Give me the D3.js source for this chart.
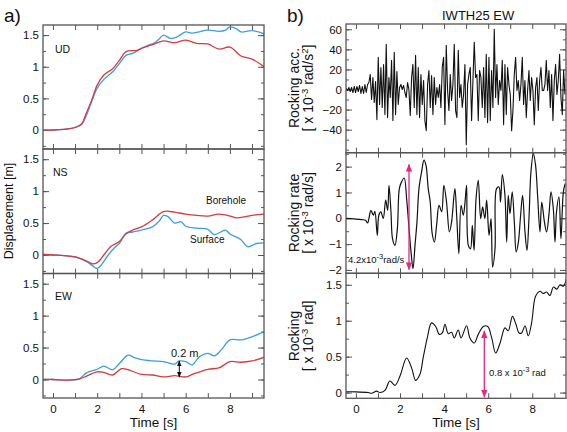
<!DOCTYPE html>
<html><head><meta charset="utf-8">
<script src="https://cdn.jsdelivr.net/npm/d3@7"></script>
<style>
body{margin:0;background:#fff;}
text{font-family:"Liberation Sans",Arial,Helvetica,sans-serif;fill:#111;}
</style></head><body>
<svg id="c" width="567" height="432"></svg>
<script>
// ---------- data ----------
const xTickLabels = [0, 2, 4, 6, 8];
const xMinorTicks = [0,1,2,3,4,5,6,7,8,9];
const dispTicks = [0, 0.5, 1, 1.5];
const accTicks = [-40, -20, 0, 20, 40, 60];
const rateTicks = [-2, -1, 0, 1, 2];
const rockTicks = [0, 0.5, 1, 1.5];

const udRedT = [-0.45,0,0.5,1,1.3,1.5,1.75,2,2.3,2.7,3,3.3,3.8,4,4.5,5,5.5,6,6.5,7,7.5,8,8.5,9,9.55];
const udRedV = [0,0,0.01,0.04,0.1,0.26,0.47,0.71,0.87,0.97,1.1,1.24,1.26,1.29,1.35,1.41,1.38,1.42,1.37,1.36,1.28,1.31,1.17,1.12,1.0];
const udBlueT = [-0.45,0,0.5,1,1.3,1.5,1.75,2,2.3,2.7,3,3.3,3.6,4,4.3,4.6,4.8,5,5.3,5.6,6,6.3,6.6,7,7.5,7.8,8,8.3,8.5,9,9.55];
const udBlueV = [0,0,0.01,0.04,0.09,0.22,0.45,0.66,0.8,0.92,1.05,1.18,1.21,1.29,1.34,1.38,1.44,1.5,1.45,1.47,1.55,1.53,1.55,1.58,1.56,1.58,1.63,1.6,1.55,1.57,1.52];

const nsRedT = [-0.45,0,0.5,1,1.5,1.8,2,2.3,2.6,3,3.3,3.6,4,4.5,5,5.5,6,6.5,7,7.5,8,8.3,8.7,9,9.55];
const nsRedV = [0.01,0,-0.01,-0.03,-0.09,-0.14,-0.12,0,0.13,0.21,0.33,0.39,0.44,0.55,0.68,0.67,0.64,0.62,0.61,0.64,0.61,0.58,0.6,0.62,0.64];
const nsBlueT = [-0.45,0,0.5,1,1.5,1.8,2,2.2,2.5,2.8,3,3.3,3.6,4,4.5,4.8,5,5.2,5.5,5.8,6,6.5,7,7.3,7.8,8,8.5,8.8,9.2,9.55];
const nsBlueV = [0.01,0,-0.01,-0.03,-0.1,-0.17,-0.21,-0.15,0,0.12,0.18,0.34,0.36,0.39,0.44,0.53,0.62,0.6,0.5,0.52,0.45,0.42,0.4,0.32,0.39,0.33,0.24,0.13,0.18,0.19];

const ewRedT = [-0.45,0,0.7,1.2,1.5,2,2.3,2.7,3.1,3.5,4,4.5,5,5.5,6,6.3,7,7.5,8,8.5,9,9.55];
const ewRedV = [0,0,-0.01,0.01,0.05,0.12,0.11,0.07,0.17,0.14,0.08,0.07,0.04,0.06,0.04,0.08,0.16,0.18,0.28,0.27,0.29,0.35];
const ewBlueT = [-0.45,0,0.7,1.2,1.5,2,2.3,2.7,3,3.4,3.7,4,4.5,5,5.5,5.7,6,6.3,6.6,7,7.3,7.6,8,8.5,9,9.55];
const ewBlueV = [0,0,-0.01,0.01,0.1,0.16,0.21,0.15,0.25,0.38,0.34,0.31,0.29,0.28,0.24,0.29,0.28,0.23,0.35,0.41,0.37,0.46,0.62,0.62,0.67,0.75];

const accStart = -0.5, accStep = 0.0605;
const accV = [0,1,-1,2,-2,2,-3,3,-3,3,-2,4,-4,3,-4,5,-3,
 5,7,15,-10,12,-13,8,-30,32,-15,22,-18,25,-25,45,-28,12,-8,29,-31,37,-25,18,-15,2,5,0,4,-3,-8,7,0,-26,12,25,-18,34,-25,22,-28,15,-15,9,-31,-41,5,19,-18,14,-25,12,-15,2,-8,5,-18,22,32,-35,44,-1,-21,15,-11,5,45,-21,
 -28,39,-8,5,-18,-5,25,-55,5,15,22,-31,9,47,12,15,-31,19,12,-18,22,-28,35,-33,32,-31,19,-18,60,-8,25,-15,9,-1,29,-35,25,-25,22,5,-5,-41,-21,15,32,-1,9,-11,5,32,-15,9,-28,-1,19,-11,12,-1,-35,2,12,-21,9,22,-1,-1,5,29,-1,19,-18,15,-31,9,25,-5,9,35,-8,-25,19,-5];

const rateT = [-0.5,0.26,0.44,0.53,0.59,0.68,0.79,0.86,0.97,1.04,1.13,1.24,1.35,1.44,1.5,1.59,1.66,1.77,1.88,1.97,2.07,2.19,2.3,2.41,2.5,2.59,2.68,2.77,2.86,2.98,3.09,3.18,3.28,3.37,3.46,3.56,3.66,3.77,3.89,3.99,4.11,4.24,4.34,4.49,
 4.57,4.67,4.77,4.87,4.95,5.02,5.1,5.2,5.28,5.36,5.45,5.55,5.66,5.75,5.85,5.93,6.04,6.13,6.2,6.31,6.38,6.49,6.56,6.64,6.76,6.84,6.91,6.99,7.09,7.19,7.27,7.37,7.46,7.56,7.67,7.76,7.85,7.94,8.05,8.15,8.25,8.35,8.43,8.55,8.65,8.76,8.85,8.96,9.03,9.1,9.21,9.3,9.41,9.49];
const rateV = [0,-0.05,-0.08,-0.18,-0.01,0.31,0.12,0.27,-0.66,0.12,0.25,-0.01,0.7,0.31,1.28,0.25,-0.79,-1.05,-0.4,1.15,1.41,1.56,0.76,-0.4,-1.3,-1.95,-1.05,-0.14,1.15,1.8,2.25,2.05,1.15,0.63,-0.59,-0.92,-0.27,0.5,0.25,1.28,0.63,-0.53,-0.14,1.15,
 0.12,-1.37,0.5,0.12,0.63,1.28,-1.05,-1.18,-0.27,-1.24,0.76,1.47,-0.01,0.44,-0.01,0.7,-0.66,-0.01,-1.89,-1.18,1.15,1.21,0.63,1.69,0.89,-0.92,0.89,0.18,1.02,-0.21,-1.3,-0.92,-0.01,0.89,-0.53,-1.24,-0.01,1.8,2.51,2.05,0.76,-0.53,0.63,-0.14,-0.53,0.18,1.02,0.31,-0.92,0.25,0.83,-0.79,1.02,1.34];

const rockT = [-0.5,0,0.56,0.71,0.94,1.09,1.32,1.54,1.77,2.0,2.3,2.53,2.71,2.9,3.06,3.25,3.43,3.62,3.78,3.92,4.04,4.19,4.34,4.46,4.64,4.77,5.02,5.17,5.37,5.55,5.78,5.98,6.16,6.34,6.54,6.76,6.91,7.1,7.26,7.4,7.52,7.67,7.82,7.97,8.15,8.35,8.5,8.65,8.8,8.96,9.11,9.26,9.41,9.56];
const rockV = [0.01,0.01,0,-0.01,0.02,0,0.03,0.16,0.1,0.23,0.48,0.34,0.17,0.25,0.5,0.78,0.97,0.92,0.81,0.83,0.95,0.82,0.84,0.76,0.87,0.76,0.93,0.76,0.69,0.81,0.92,0.92,0.76,0.55,0.69,0.9,0.86,1.06,0.95,0.83,0.83,0.93,0.79,0.97,1.34,1.41,1.38,1.4,1.35,1.47,1.44,1.5,1.48,1.6];

// ---------- drawing ----------
const svg = d3.select("#c");
const RED = "#d93a3f", BLUE = "#3aa0dc", PINK = "#e8267f", FRAME = "#555";
const defs = svg.append("defs");
function marker(id, color){
  defs.append("marker").attr("id", id).attr("viewBox","0 0 10 10").attr("refX",9).attr("refY",5)
    .attr("markerWidth",6).attr("markerHeight",6).attr("orient","auto-start-reverse")
    .append("path").attr("d","M0,1L10,5L0,9Z").attr("fill",color);
}
marker("ab","#111"); marker("ap",PINK);
let clipN = 0;

function panel(o){
  const x = d3.scaleLinear().domain(o.xd).range([o.x0, o.x1]);
  const y = d3.scaleLinear().domain(o.yd).range([o.y1, o.y0]);
  const g = svg.append("g");
  const id = "clip" + (clipN++);
  defs.append("clipPath").attr("id", id).append("rect")
    .attr("x", o.x0).attr("y", o.y0).attr("width", o.x1 - o.x0).attr("height", o.y1 - o.y0);
  const minorY = d3.range(Math.ceil(o.yd[0]/o.ym)*o.ym, o.yd[1]+1e-9, o.ym).map(v=>+v.toFixed(4));
  const styleAxis = sel => { sel.select(".domain").remove(); sel.selectAll("line").attr("stroke", FRAME).attr("stroke-width",1);
    sel.selectAll("text").style("font-size","11.5px").attr("fill","#111"); };
  // y axes
  g.append("g").attr("transform",`translate(${o.x0},0)`).call(d3.axisLeft(y).tickValues(o.yt).tickSize(-6).tickPadding(4).tickFormat(d=>d3.format("")(d))).call(styleAxis);
  g.append("g").attr("transform",`translate(${o.x0},0)`).call(d3.axisLeft(y).tickValues(minorY).tickSize(-3).tickFormat("")).call(styleAxis);
  g.append("g").attr("transform",`translate(${o.x1},0)`).call(d3.axisRight(y).tickValues(o.yt).tickSize(-6).tickFormat("")).call(styleAxis);
  g.append("g").attr("transform",`translate(${o.x1},0)`).call(d3.axisRight(y).tickValues(minorY).tickSize(-3).tickFormat("")).call(styleAxis);
  // x axes
  g.append("g").attr("transform",`translate(0,${o.y1})`).call(d3.axisBottom(x).tickValues(xMinorTicks).tickSize(-5).tickFormat("")).call(styleAxis);
  g.append("g").attr("transform",`translate(0,${o.y0})`).call(d3.axisTop(x).tickValues(xMinorTicks).tickSize(-5).tickFormat("")).call(styleAxis);
  if (o.xlab){
    g.append("g").attr("transform",`translate(0,${o.y1})`).call(d3.axisBottom(x).tickValues(xTickLabels).tickSize(0).tickPadding(7)).call(styleAxis);
  }
  const lines = g.append("g").attr("clip-path",`url(#${id})`);
  o.series.forEach(s=>{
    const pts = s.t.map((t,i)=>[t, s.v[i]]);
    lines.append("path").attr("d", d3.line().x(d=>x(d[0])).y(d=>y(d[1])).curve(s.curve || d3.curveCatmullRom)(pts))
      .attr("fill","none").attr("stroke", s.c).attr("stroke-width", s.w || 1.3).attr("stroke-linejoin","round");
  });
  g.append("rect").attr("x",o.x0).attr("y",o.y0).attr("width",o.x1-o.x0).attr("height",o.y1-o.y0)
    .attr("fill","none").attr("stroke",FRAME).attr("stroke-width",1.3);
  return {x, y, g};
}

const LX0 = 43, LX1 = 264, LXD = [-0.45, 9.54];
const ud = panel({x0:LX0,x1:LX1,y0:25,y1:149,xd:LXD,yd:[-0.3,1.66],yt:dispTicks,ym:0.25,
  series:[{t:udBlueT,v:udBlueV,c:BLUE},{t:udRedT,v:udRedV,c:RED}]});
const ns = panel({x0:LX0,x1:LX1,y0:149,y1:273.5,xd:LXD,yd:[-0.29,1.66],yt:dispTicks,ym:0.25,
  series:[{t:nsBlueT,v:nsBlueV,c:BLUE},{t:nsRedT,v:nsRedV,c:RED}]});
const ew = panel({x0:LX0,x1:LX1,y0:273.5,y1:398,xd:LXD,yd:[-0.29,1.66],yt:dispTicks,ym:0.25,xlab:true,
  series:[{t:ewBlueT,v:ewBlueV,c:BLUE},{t:ewRedT,v:ewRedV,c:RED}]});

const RX0 = 346, RX1 = 566, RXD = [-0.45, 9.53];
const accT = accV.map((v,i)=>accStart + i*accStep);
const acc = panel({x0:RX0,x1:RX1,y0:24,y1:152.7,xd:RXD,yd:[-63,65.3],yt:accTicks,ym:10,
  series:[{t:accT,v:accV,c:"#111",w:1.1,curve:d3.curveLinear}]});
const rate = panel({x0:RX0,x1:RX1,y0:152.7,y1:273.3,xd:RXD,yd:[-2.13,2.54],yt:rateTicks,ym:0.5,
  series:[{t:rateT,v:rateV,c:"#111",w:1.2}]});
const rock = panel({x0:RX0,x1:RX1,y0:273.3,y1:398.3,xd:RXD,yd:[-0.08,1.66],yt:rockTicks,ym:0.25,xlab:true,
  series:[{t:rockT,v:rockV,c:"#111",w:1.1}]});

// ---------- text ----------
function txt(x,y,s,size,anchor,extra){
  const t = svg.append("text").attr("x",x).attr("y",y).style("font-size",size+"px").attr("text-anchor",anchor||"start").text(s);
  return t;
}
txt(4,22,"a)",19);
txt(287,22,"b)",19);
txt(442,20,"IWTH25 EW",13);
txt(55,53,"UD",10.5); txt(53,176,"NS",10.5); txt(55,300,"EW",10.5);
txt(206,204,"Borehole",10); txt(190,243,"Surface",10);
txt(171,357,"0.2 m",11);
txt(153.5,427,"Time [s]",13.5,"middle");
txt(456,427,"Time [s]",13.5,"middle");

// rotated labels
function rot(x,y,size){
  return svg.append("text").attr("transform",`translate(${x},${y}) rotate(-90)`).attr("text-anchor","middle").style("font-size",size+"px");
}
rot(13,211,12.5).text("Displacement [m]");
function twoLine(cy, l1, unitPre, unitPost, sup2){
  rot(299, cy, 14).text(l1);
  const t = rot(313, cy, 14);
  t.append("tspan").text("[ x 10");
  t.append("tspan").attr("dy",-5).style("font-size","9.5px").text("-3");
  t.append("tspan").attr("dy",5).text(" " + unitPre);
  if (sup2){ t.append("tspan").attr("dy",-5).style("font-size","9.5px").text("2"); t.append("tspan").attr("dy",5).text("]"); }
  else t.append("tspan").text(unitPost);
}
twoLine(88, "Rocking acc.", "rad/s", "", true);
twoLine(213, "Rocking rate", "rad/s", "]", false);
twoLine(336, "Rocking", "rad", "]", false);

// annotations
svg.append("line").attr("x1",179.3).attr("x2",179.3).attr("y1",361).attr("y2",377)
  .attr("stroke","#111").attr("stroke-width",1).attr("marker-start","url(#ab)").attr("marker-end","url(#ab)");
svg.append("line").attr("x1",409).attr("x2",409).attr("y1",164.5).attr("y2",269.5)
  .attr("stroke",PINK).attr("stroke-width",1.3).attr("marker-start","url(#ap)").attr("marker-end","url(#ap)");
svg.append("line").attr("x1",484.3).attr("x2",484.3).attr("y1",331).attr("y2",397)
  .attr("stroke",PINK).attr("stroke-width",1.3).attr("marker-start","url(#ap)").attr("marker-end","url(#ap)");
const a1 = svg.append("text").attr("x",348).attr("y",263).style("font-size","9.5px");
a1.append("tspan").text("4.2x10"); a1.append("tspan").attr("dy",-4).style("font-size","7.5px").text("-3");
a1.append("tspan").attr("dy",4).text("rad/s");
const a2 = svg.append("text").attr("x",489).attr("y",376).style("font-size","9.5px");
a2.append("tspan").text("0.8 x 10"); a2.append("tspan").attr("dy",-4).style("font-size","7.5px").text("-3");
a2.append("tspan").attr("dy",4).text(" rad");
</script></body></html>
